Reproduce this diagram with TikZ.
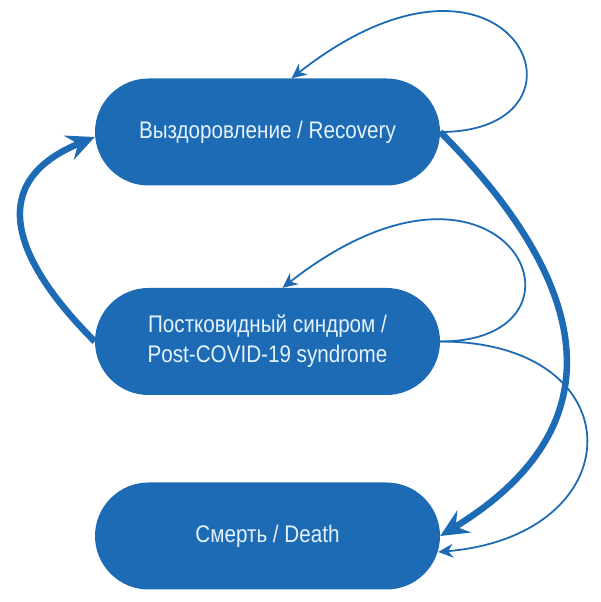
\documentclass[tikz,border=0pt]{standalone}
\usepackage{fontspec}
\setmainfont[FakeStretch=0.86]{Liberation Sans}
\usepackage{tikz}
\usetikzlibrary{shapes.misc,arrows.meta,calc}
\usepackage{xcolor}
\definecolor{stateblue}{RGB}{30,107,181}
\definecolor{statetext}{RGB}{228,242,252}

\begin{document}
\begin{tikzpicture}[x=1pt,y=1pt,
    state/.style={rounded rectangle, fill=stateblue, minimum width=345pt, minimum height=107pt,
        inner sep=0pt, text=statetext, align=center, font=\fontsize{24}{30}\selectfont},
    bigflow/.style={draw=stateblue, line width=6.5pt, -{Stealth[length=28pt,width=26pt,inset=10pt]}},
    smallflow/.style={draw=stateblue, line width=1.8pt, -{Stealth[length=15pt,width=14pt,inset=5pt]}}]
    \useasboundingbox (0,0) rectangle (600,602);

    % States
    \node[state] (rec) at (267.5,470) {Выздоровление / Recovery};
    \node[state] (post) at (267.5,260.5) {Постковидный синдром /\\Post-COVID-19 syndrome};
    \node[state] (death) at (267.5,66) {Смерть / Death};

    % Self loops
    \draw[smallflow] (rec.east) .. controls +(170,0) and +(221,173) .. ($(rec.north)+(24,0)$);
    \draw[smallflow] (post.east) .. controls +(170,0) and +(225,176) .. ($(post.north)+(15,0)$);

    % Transitions
    \draw[bigflow] (rec.east) .. controls +(98,-98) and +(221,135) .. (death.east);
    \draw[smallflow] (post.east) .. controls +(196,0) and +(196,17) .. ($(death.east)+(-2,-16)$);
    \draw[bigflow] (post.west) .. controls +(-70,70) and +(-119,-49) .. ($(rec.west)+(0,-5)$);
\end{tikzpicture}
\end{document}
